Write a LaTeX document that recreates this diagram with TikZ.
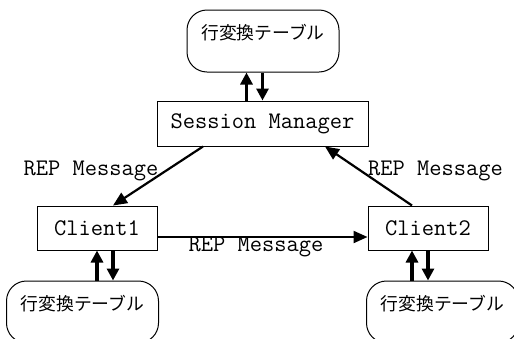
\documentclass[tikz,border=0pt]{standalone}
\usepackage{fontspec}
\newfontfamily\jpfont{Noto Sans CJK JP}
\usetikzlibrary{arrows.meta}
\tikzset{
  pbox/.style={
    rectangle, draw=black, line width=0.5pt,
    font=\ttfamily\fontsize{11.9}{13}\selectfont, inner sep=0pt
  },
  tbox/.style={
    rectangle, rounded corners=10pt, draw=black, line width=0.5pt,
    font=\jpfont\fontsize{8.9}{10}\selectfont,
    minimum width=76pt, text height=14.9pt, text depth=16.1pt, inner sep=0pt
  },
  msg/.style={font=\ttfamily\fontsize{11.9}{13}\selectfont, inner sep=0pt},
  arr/.style={-{Triangle[length=7pt,width=6pt]}, line width=1.1pt, black},
  varr/.style={-{Triangle[length=6pt,width=6pt]}, line width=1.7pt, black}
}

\begin{document}
\begin{tikzpicture}[x=0.5pt, y=-0.5pt]
\useasboundingbox (0,0) rectangle (514,338);

% tables
\node[tbox] (tbltop) at (263,41) {行変換テーブル};
\node[tbox] (tblone) at (82.5,312) {行変換テーブル};
\node[tbox] (tbltwo) at (442.5,312) {行変換テーブル};

% processes
\node[pbox, minimum width=105.5pt, minimum height=22.5pt] (sm) at (262.5,123.5) {Session Manager};
\node[pbox, minimum width=60pt, minimum height=22pt] (cl1) at (97,228) {Client1};
\node[pbox, minimum width=60pt, minimum height=22pt] (cl2) at (428,228) {Client2};

% messages
\node[msg] (msgone) at (91,171) {REP Message};
\node[msg] (msgtwo) at (435.5,171) {REP Message};
\node[msg] (msgmid) at (256,247) {REP Message};

\draw[arr] ([xshift=-29.75pt]sm.south) -- ([xshift=8pt]cl1.north);
\draw[arr] ([xshift=-8pt]cl2.north) -- ([xshift=31.25pt]sm.south);
\draw[arr] ([yshift=-4.5pt]cl1.east) -- ([yshift=-4.5pt]cl2.west);

% table access
\draw[varr] ([xshift=-8pt]sm.north) -- ([xshift=-8pt]sm.north |- tbltop.south);
\draw[varr] (sm.north |- tbltop.south) -- (sm.north);
\draw[varr] (cl1.south |- tblone.north) -- (cl1.south);
\draw[varr] ([xshift=8pt]cl1.south) -- ([xshift=8pt]cl1.south |- tblone.north);
\draw[varr] ([xshift=-8pt]cl2.south |- tbltwo.north) -- ([xshift=-8pt]cl2.south);
\draw[varr] (cl2.south) -- (cl2.south |- tbltwo.north);

\end{tikzpicture}
\end{document}
